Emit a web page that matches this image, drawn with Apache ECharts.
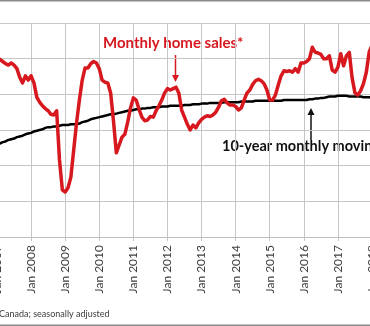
<!DOCTYPE html>
<html><head><meta charset="utf-8">
<script src="https://cdn.jsdelivr.net/npm/echarts@6/dist/echarts.min.js"></script>
<style>html,body{margin:0;padding:0;background:#fff}#c{width:370px;height:326px}</style>
</head><body><div id="c"></div>
<script>
const monthNames = ['Jan','Feb','Mar','Apr','May','Jun','Jul','Aug','Sep','Oct','Nov','Dec'];
const years = [2007,2008,2009,2010,2011,2012,2013,2014,2015,2016,2017,2018];
const categories = [];
years.forEach(y => monthNames.forEach(m => categories.push(m + ' ' + y)));
categories.length = 133; // Jan 2007 .. Jan 2018

// Monthly home sales (thousands, seasonally adjusted)
const homeSales = [
  45.1,44.9,44.6,44.3,44.1,44.4,44.1,43.6,42.4,41.6,42.6,42.0,
  42.6,41.6,39.6,38.9,38.4,38.0,37.7,37.2,37.1,37.7,30.8,26.6,
  26.3,26.9,28.4,32.2,36.0,39.2,42.0,43.7,43.7,44.3,44.6,44.4,
  43.6,42.0,41.7,41.6,40.2,36.3,31.8,32.9,34.0,34.4,36.1,38.1,
  39.5,39.2,37.9,36.8,36.3,36.4,36.9,36.8,37.7,38.4,39.2,40.2,
  40.8,40.6,40.8,41.0,40.2,37.8,36.8,35.8,35.0,35.7,35.3,36.0,
  36.5,36.8,37.0,36.9,37.1,37.5,38.2,39.1,39.3,38.8,38.5,38.5,
  38.3,37.8,38.1,39.2,40.2,40.6,41.4,41.9,42.1,41.9,41.5,40.6,
  39.2,39.2,39.9,41.3,42.6,43.3,43.2,43.3,43.1,43.6,43.1,44.4,
  44.4,44.6,45.0,46.6,45.9,45.8,45.6,45.0,45.0,45.4,43.4,43.1,
  43.8,45.7,44.0,45.4,45.9,42.3,40.2,39.9,40.5,41.5,43.1,45.9,
  46.9
];
// 10-year monthly moving average (thousands)
const movingAvg = [
  33.0,33.1,33.3,33.4,33.6,33.7,33.8,34.0,34.1,34.2,34.4,34.5,
  34.6,34.8,34.9,35.0,35.1,35.3,35.4,35.4,35.5,35.5,35.6,35.7,
  35.7,35.7,35.8,35.8,35.8,35.9,36.1,36.2,36.3,36.5,36.6,36.7,
  36.8,36.9,37.0,37.1,37.2,37.2,37.3,37.4,37.5,37.6,37.7,37.7,
  37.8,37.9,37.9,38.0,38.0,38.1,38.1,38.2,38.2,38.2,38.3,38.3,
  38.3,38.4,38.4,38.4,38.4,38.4,38.5,38.5,38.5,38.6,38.6,38.6,
  38.7,38.7,38.7,38.8,38.8,38.8,38.8,38.8,38.9,38.9,38.9,38.9,
  38.9,38.9,39.0,39.0,39.0,39.0,39.0,39.1,39.1,39.1,39.1,39.1,
  39.1,39.1,39.1,39.1,39.1,39.2,39.2,39.2,39.2,39.2,39.2,39.2,
  39.2,39.2,39.3,39.3,39.4,39.4,39.5,39.5,39.6,39.7,39.7,39.7,
  39.8,39.8,39.8,39.8,39.7,39.7,39.7,39.7,39.7,39.6,39.6,39.6,
  39.5
];
const yMin = 20, yMax = 50, yStep = 5;
const isJan = (i) => i % 12 === 0;
const gridColor = '#c6c6c6';
const red = '#d7181f';
const FONT = 'Lato';

const chart = echarts.init(document.getElementById('c'), null, {renderer: 'canvas'});
chart.setOption({
  animation: false,
  backgroundColor: '#ffffff',
  grid: {left: -3, right: -2, top: 23, bottom: 89, containLabel: false, outerBoundsMode: 'none'},
  xAxis: {
    type: 'category', data: categories, boundaryGap: false,
    axisLine: {show: true, lineStyle: {color: '#bdbdbd', width: 1}},
    axisTick: {show: true, interval: isJan, length: 4, lineStyle: {color: gridColor}},
    axisLabel: {interval: isJan, rotate: 90, margin: 8, fontFamily: FONT, fontSize: 12, color: '#404040',
      formatter: v => v},
    splitLine: {show: true, interval: isJan, lineStyle: {color: gridColor, width: 1}}
  },
  yAxis: {
    type: 'value', min: yMin, max: yMax, interval: yStep,
    axisLabel: {show: false}, axisLine: {show: false}, axisTick: {show: false},
    splitLine: {show: true, lineStyle: {color: gridColor, width: 1}}
  },
  series: [
    {name: '10-year monthly moving average', type: 'line', data: movingAvg, symbol: 'none',
      lineStyle: {color: '#000000', width: 2.5}, z: 2},
    {name: 'Monthly home sales*', type: 'line', data: homeSales, symbol: 'none',
      lineStyle: {color: red, width: 3.5, join: 'round'}, z: 3}
  ],
  graphic: [
    {type: 'line', shape: {x1: 0, y1: 0.75, x2: 370, y2: 0.75}, style: {stroke: '#8a8a8a', lineWidth: 1.5}},
    {type: 'line', shape: {x1: 0, y1: 325.25, x2: 370, y2: 325.25}, style: {stroke: '#8a8a8a', lineWidth: 1.5}},
    {type: 'text', x: 103, y: 43.5, style: {text: 'Monthly home sales*', fill: red, font: 'bold 15px Lato', textVerticalAlign: 'middle', verticalAlign: 'middle'}},
    {type: 'line', shape: {x1: 175.5, y1: 55, x2: 175.5, y2: 76}, style: {stroke: red, lineWidth: 1.5}},
    {type: 'polygon', shape: {points: [[172, 75], [179, 75], [175.5, 82]]}, style: {fill: red}},
    {type: 'text', x: 222, y: 146.5, style: {text: '10-year monthly moving average', fill: '#111', font: 'bold 14.5px Lato', textVerticalAlign: 'middle', verticalAlign: 'middle'}},
    {type: 'line', shape: {x1: 311, y1: 114, x2: 311, y2: 140}, style: {stroke: '#111', lineWidth: 1.5}},
    {type: 'polygon', shape: {points: [[307.5, 115], [314.5, 115], [311, 108]]}, style: {fill: '#111'}},
    {type: 'text', x: -1, y: 314, style: {text: 'Canada; seasonally adjusted', fill: '#3c3c3c', font: '9px Lato', textVerticalAlign: 'middle', verticalAlign: 'middle'}}
  ]
});
</script></body></html>
